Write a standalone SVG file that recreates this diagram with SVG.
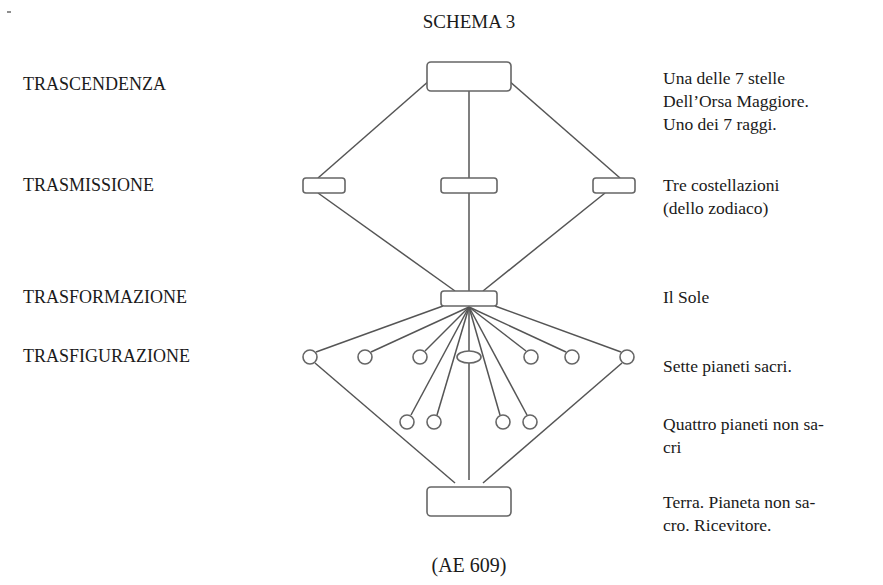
<svg xmlns="http://www.w3.org/2000/svg" width="883" height="585" viewBox="0 0 883 585">
<style>
.t{font-family:"Liberation Serif","Times New Roman",serif;font-size:17.5px;fill:#1a1a1a}
.l{font-size:18px}
.c line{stroke:#555;stroke-width:1.5}
.n rect,.n circle,.n ellipse{fill:#fff;stroke:#666;stroke-width:1.6}
</style>
<rect width="883" height="585" fill="#fff"/>
<line x1="7" y1="12" x2="11" y2="12" stroke="#444" stroke-width="1.2"/>
<text class="t" x="469" y="28" text-anchor="middle" style="font-size:19px">SCHEMA 3</text>
<text class="t l" x="23" y="90">TRASCENDENZA</text>
<text class="t l" x="23" y="191">TRASMISSIONE</text>
<text class="t l" x="23" y="303">TRASFORMAZIONE</text>
<text class="t l" x="23" y="362">TRASFIGURAZIONE</text>
<text class="t" x="663" y="84">Una delle 7 stelle</text>
<text class="t" x="663" y="107">Dell’Orsa Maggiore.</text>
<text class="t" x="663" y="130">Uno dei 7 raggi.</text>
<text class="t" x="663" y="191">Tre costellazioni</text>
<text class="t" x="663" y="214">(dello zodiaco)</text>
<text class="t" x="663" y="303">Il Sole</text>
<text class="t" x="663" y="372">Sette pianeti sacri.</text>
<text class="t" x="663" y="430">Quattro pianeti non sa-</text>
<text class="t" x="663" y="453">cri</text>
<text class="t" x="663" y="508">Terra. Pianeta non sa-</text>
<text class="t" x="663" y="531">cro. Ricevitore.</text>
<text class="t" x="469" y="572" text-anchor="middle" style="font-size:20px">(AE 609)</text>
<g id="connectors" class="c">
<line x1="430" y1="80" x2="318" y2="178"/>
<line x1="469" y1="91" x2="469" y2="178"/>
<line x1="508" y1="80" x2="620" y2="178"/>
<line x1="318" y1="193" x2="455" y2="291"/>
<line x1="469" y1="193" x2="469" y2="291"/>
<line x1="605" y1="193" x2="483" y2="291"/>
<line x1="443" y1="306" x2="316" y2="352"/>
<line x1="469" y1="307" x2="371" y2="352"/>
<line x1="469" y1="307" x2="425" y2="351"/>
<line x1="469" y1="307" x2="411" y2="415"/>
<line x1="469" y1="307" x2="437" y2="415"/>
<line x1="469" y1="307" x2="469" y2="480"/>
<line x1="469" y1="307" x2="500" y2="415"/>
<line x1="469" y1="307" x2="527" y2="415"/>
<line x1="469" y1="307" x2="526" y2="351"/>
<line x1="469" y1="307" x2="566" y2="352"/>
<line x1="495" y1="306" x2="621" y2="352"/>
<line x1="315" y1="363" x2="455" y2="483"/>
<line x1="622" y1="363" x2="483" y2="483"/>
</g>
<g class="n">
<g id="trascendenza"><rect x="427" y="62" width="84" height="29" rx="4"/></g>
<g id="trasm-left"><rect x="303" y="178" width="42" height="15" rx="3"/></g>
<g id="trasm-center"><rect x="441" y="178" width="56" height="15" rx="3"/></g>
<g id="trasm-right"><rect x="593" y="178" width="42" height="15" rx="3"/></g>
<g id="trasformazione"><rect x="441" y="291" width="56" height="15" rx="3"/></g>
<g id="p1"><circle cx="310" cy="357" r="7"/></g>
<g id="p2"><circle cx="365" cy="357" r="7"/></g>
<g id="p3"><circle cx="420" cy="357" r="7"/></g>
<g id="p4"><ellipse cx="469" cy="357" rx="12" ry="6"/></g>
<g id="p5"><circle cx="531" cy="357" r="7"/></g>
<g id="p6"><circle cx="572" cy="357" r="7"/></g>
<g id="p7"><circle cx="627" cy="357" r="7"/></g>
<g id="q1"><circle cx="407" cy="422" r="7"/></g>
<g id="q2"><circle cx="434" cy="422" r="7"/></g>
<g id="q3"><circle cx="503" cy="422" r="7"/></g>
<g id="q4"><circle cx="530" cy="422" r="7"/></g>
<g id="terra"><rect x="427" y="487" width="84" height="29" rx="4"/></g>
</g>
</svg>
